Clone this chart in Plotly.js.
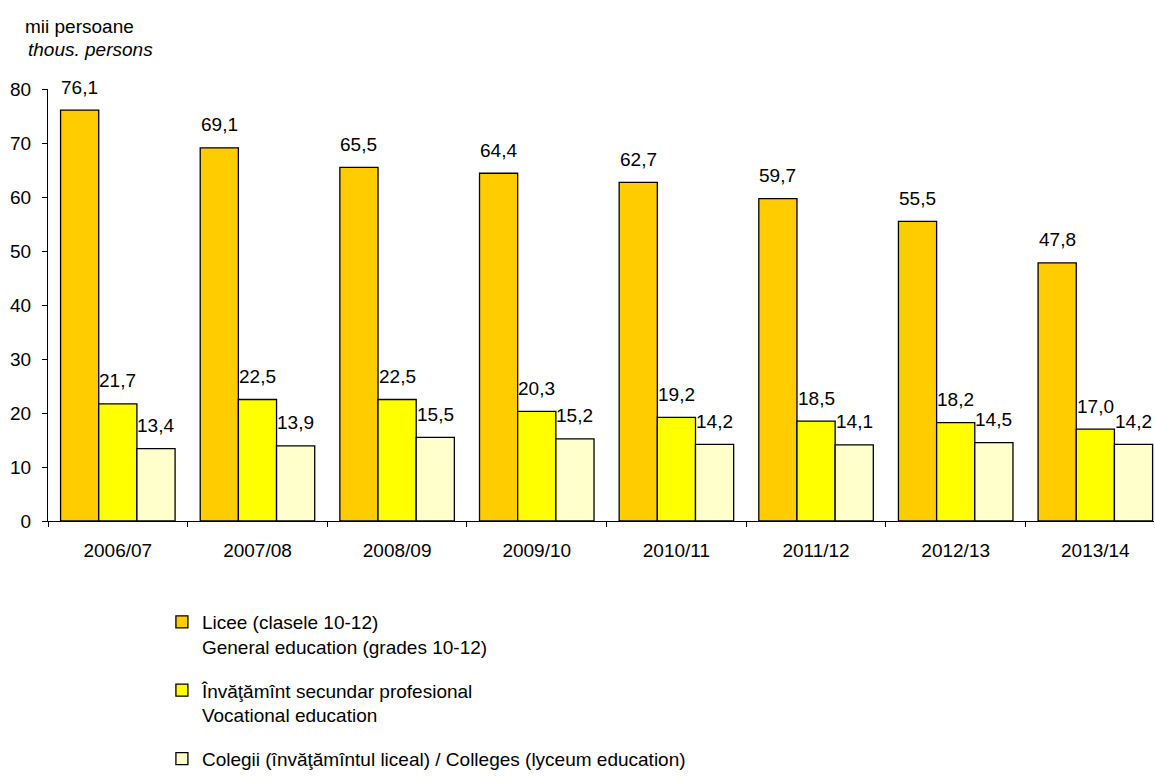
<!DOCTYPE html>
<html>
<head>
<meta charset="utf-8">
<script src="https://cdn.plot.ly/plotly-3.0.1.min.js"></script>
<style>html,body{margin:0;padding:0;background:#fff;}</style>
</head>
<body>
<div id="chart" style="width:1155px;height:776px;"></div>
<script>
const years = ["2006/07","2007/08","2008/09","2009/10","2010/11","2011/12","2012/13","2013/14"];
const general = [76.1, 69.1, 65.5, 64.4, 62.7, 59.7, 55.5, 47.8];
const vocational = [21.7, 22.5, 22.5, 20.3, 19.2, 18.5, 18.2, 17.0];
const colleges = [13.4, 13.9, 15.5, 15.2, 14.2, 14.1, 14.5, 14.2];
const seriesNames = [
  "Licee (clasele 10-12)<br>General education (grades 10-12)",
  "Învăţămînt secundar profesional<br>Vocational education",
  "Colegii (învăţămîntul liceal) / Colleges (lyceum education)"
];
const colors = ["#FFCC00", "#FFFF00", "#FFFFCC"];
const yTicks = [0,10,20,30,40,50,60,70,80];

const FONT = "Liberation Sans, Arial, sans-serif";
const FS = 19;
const allSeries = [general, vocational, colleges];
const bargap = 0.18;
const barW = (1 - bargap) / allSeries.length;

const traces = allSeries.map((vals, k) => ({
  type: "bar",
  x: years,
  y: vals,
  name: seriesNames[k],
  legendgroup: "g" + k,
  marker: {color: colors[k], line: {color: "#000", width: 1.3}},
  hoverinfo: "y"
}));

const fmt = v => v.toFixed(1).replace(".", ",");
const annotations = [];
allSeries.forEach((vals, k) => {
  vals.forEach((v, i) => {
    annotations.push({
      x: i + (k - 1) * barW, xref: "x",
      y: v, yref: "y",
      text: fmt(v), showarrow: false,
      yanchor: "middle", yshift: 23,
      font: {family: FONT, size: FS, color: "#000"}
    });
  });
});
annotations.push({
  xref: "paper", yref: "paper", x: 0, y: 1, xanchor: "left", yanchor: "middle",
  xshift: -25, yshift: 63, showarrow: false, text: "mii persoane",
  font: {family: FONT, size: FS, color: "#000"}
});
annotations.push({
  xref: "paper", yref: "paper", x: 0, y: 1, xanchor: "left", yanchor: "middle",
  xshift: -22, yshift: 40, showarrow: false, text: "<i>thous. persons</i>",
  font: {family: FONT, size: FS, color: "#000"}
});

const layout = {
  width: 1155, height: 776,
  margin: {l: 48, r: 1, t: 89, b: 255, pad: 0, autoexpand: false},
  paper_bgcolor: "#fff", plot_bgcolor: "#fff",
  font: {family: FONT, size: FS, color: "#000"},
  barmode: "group", bargap: bargap, bargroupgap: 0,
  showlegend: true,
  legend: {
    orientation: "v", x: 0.103, xref: "paper", y: 0.223, yref: "container",
    xanchor: "left", yanchor: "top",
    traceorder: "grouped", tracegroupgap: 16, valign: "top",
    font: {family: FONT, size: FS, color: "#000"}, bgcolor: "rgba(0,0,0,0)"
  },
  xaxis: {
    type: "category", range: [-0.5, 7.42], automargin: false,
    showline: true, linecolor: "#000", linewidth: 1,
    ticks: "outside", tickson: "boundaries", ticklen: 5, tickcolor: "#000", tickwidth: 1,
    showgrid: false, zeroline: false, ticklabelstandoff: 12,
    tickfont: {family: FONT, size: FS, color: "#000"}
  },
  yaxis: {
    range: [0, 80], tickvals: yTicks, ticktext: yTicks.map(String), automargin: false,
    showline: true, linecolor: "#000", linewidth: 1,
    ticks: "outside", ticklen: 5, tickcolor: "#000", tickwidth: 1,
    showgrid: false, zeroline: false, ticklabelstandoff: 7,
    tickfont: {family: FONT, size: FS, color: "#000"}
  },
  annotations: annotations
};

Plotly.newPlot("chart", traces, layout, {displayModeBar: false, staticPlot: true});
</script>
</body>
</html>
